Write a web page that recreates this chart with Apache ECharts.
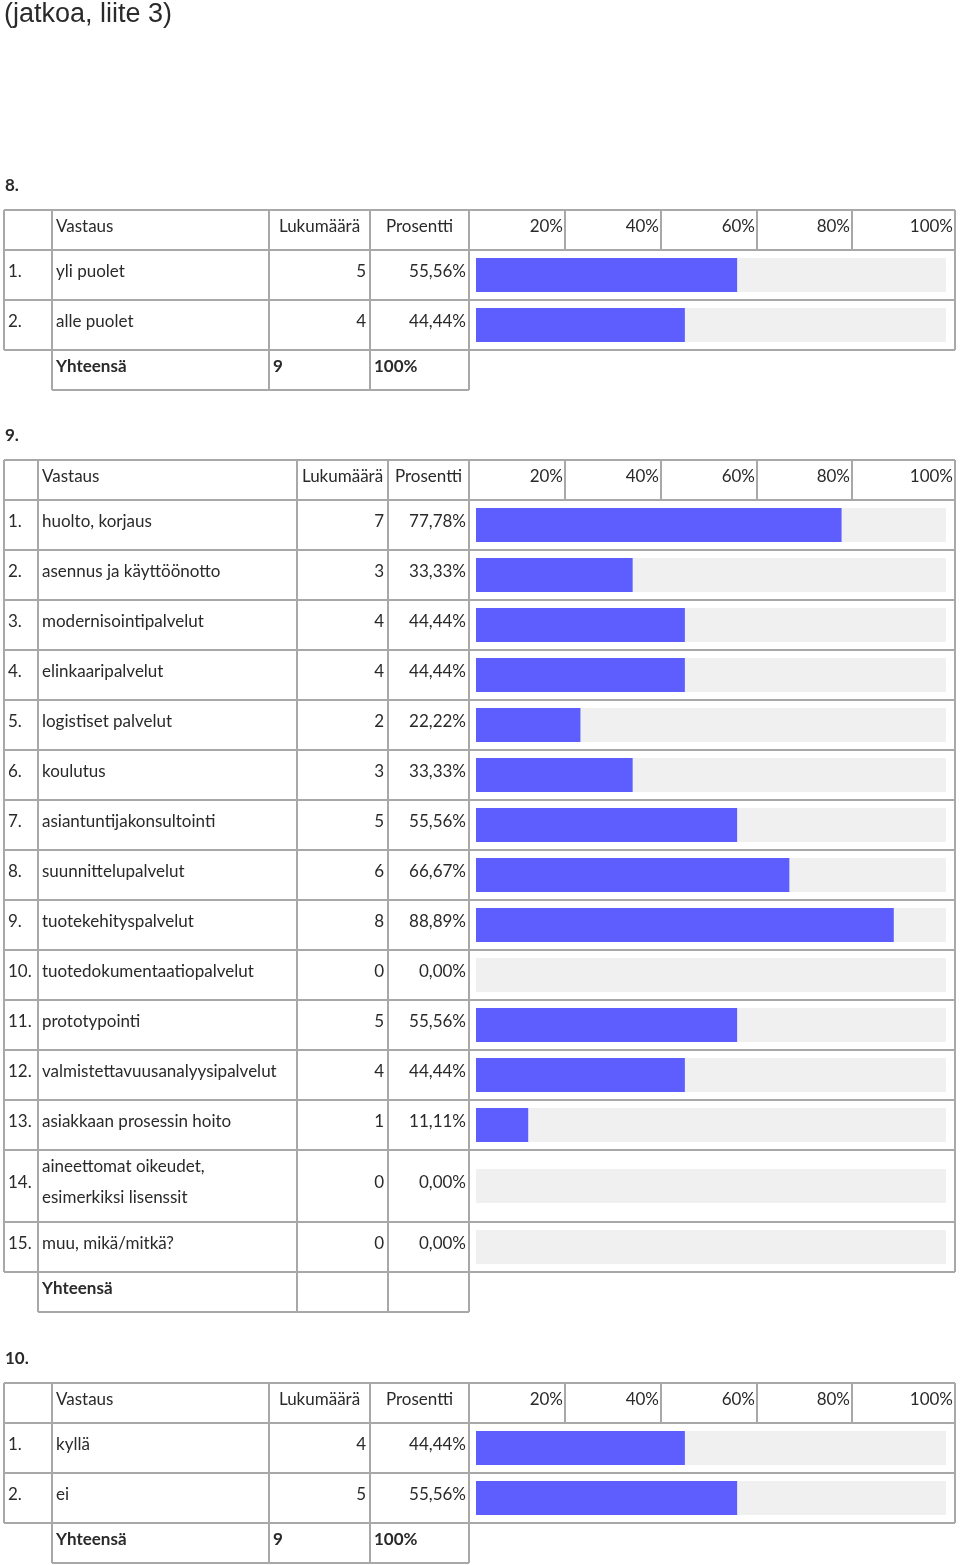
<!DOCTYPE html>
<html>
<head>
<meta charset="utf-8">
<script src="https://cdn.jsdelivr.net/npm/echarts@6/dist/echarts.min.js"></script>
<style>
html,body{margin:0;padding:0;background:#fff;}
#chart{width:960px;height:1565px;}
</style>
</head>
<body>
<div id="chart"></div>
<script>
// ---------- DATA ----------
const pageTitle = '(jatkoa, liite 3)';
const headerLabels = ['Vastaus', 'Lukumäärä', 'Prosentti'];
const tickLabels = ['20%', '40%', '60%', '80%', '100%'];
const totalLabel = 'Yhteensä';

const q8Title = '8.';
const q8Labels = ['yli puolet', 'alle puolet'];
const q8Counts = [5, 4];
const q8Pct = [55.56, 44.44];
const q8Total = ['9', '100%'];

const q9Title = '9.';
const q9Labels = ['huolto, korjaus', 'asennus ja käyttöönotto', 'modernisointipalvelut',
  'elinkaaripalvelut', 'logistiset palvelut', 'koulutus', 'asiantuntijakonsultointi',
  'suunnittelupalvelut', 'tuotekehityspalvelut', 'tuotedokumentaatiopalvelut',
  'prototypointi', 'valmistettavuusanalyysipalvelut', 'asiakkaan prosessin hoito',
  'aineettomat oikeudet,\nesimerkiksi lisenssit', 'muu, mikä/mitkä?'];
const q9Counts = [7, 3, 4, 4, 2, 3, 5, 6, 8, 0, 5, 4, 1, 0, 0];
const q9Pct = [77.78, 33.33, 44.44, 44.44, 22.22, 33.33, 55.56, 66.67, 88.89, 0, 55.56, 44.44, 11.11, 0, 0];
const q9Total = ['', ''];

const q10Title = '10.';
const q10Labels = ['kyllä', 'ei'];
const q10Counts = [4, 5];
const q10Pct = [44.44, 55.56];
const q10Total = ['9', '100%'];

// ---------- LAYOUT ----------
const FONT = '"Lato", "Noto Sans", sans-serif';
const FS = 17;
const TXT = '#2a2a2a';
const LINE = '#a8a8a8';
const BLUE = '#5e5eff';
const GRAY = '#f0f0f0';
const BAR_L = 476, BAR_W = 470;
const pctCols = [469, 565, 661, 757, 852, 955];

const fmtPct = v => v.toFixed(2).replace('.', ',') + '%';

const graphics = [];
function txt(t, x, y, opt) {
  opt = opt || {};
  graphics.push({
    type: 'text', silent: true, z: 10,
    style: {
      text: t, x: x, y: y,
      font: (opt.bold ? 'bold ' : '') + (opt.size || FS) + 'px ' + (opt.family || FONT),
      fill: TXT, align: opt.align || 'left', verticalAlign: 'middle',
      lineHeight: opt.lh || 20
    }
  });
}
function line(x1, y1, x2, y2) {
  graphics.push({
    type: 'line', silent: true, z: 5,
    shape: { x1: x1, y1: y1, x2: x2, y2: y2 },
    style: { stroke: LINE, lineWidth: 2 }
  });
}

txt(pageTitle, 4, 15, { size: 27, family: '"Liberation Sans", Arial, sans-serif' });

function buildTable(cfg) {
  const c = cfg.cols;
  const top = cfg.top;
  const hb = top + 40;
  const rowTops = [];
  let y = hb;
  cfg.labels.forEach((l, i) => { rowTops.push(y); y += (cfg.rowH ? cfg.rowH[i] : 50); });
  const bottom = y;
  const totBottom = bottom + 40;
  const OFF = -3.5;
  txt(cfg.title, 5, top - 24, { bold: true });
  line(c[0], top, c[5], top);
  line(c[0], hb, c[5], hb);
  rowTops.forEach((rt, i) => { if (i > 0) line(c[0], rt, c[5], rt); });
  line(c[0], bottom, c[5], bottom);
  [c[0], c[1], c[2], c[3], c[4], c[5]].forEach(x => line(x, top, x, bottom));
  pctCols.slice(1, 5).forEach(x => line(x, top, x, hb));
  line(c[1], totBottom, c[4], totBottom);
  [c[1], c[2], c[3], c[4]].forEach(x => line(x, bottom, x, totBottom));
  txt(headerLabels[0], c[1] + 4, top + 20 + OFF);
  txt(headerLabels[1], (c[2] + c[3]) / 2, top + 20 + OFF, { align: 'center' });
  txt(headerLabels[2], (c[3] + c[4]) / 2, top + 20 + OFF, { align: 'center' });
  tickLabels.forEach((t, i) => txt(t, pctCols[i + 1] - 2, top + 20 + OFF, { align: 'right' }));
  cfg.labels.forEach((l, i) => {
    const h = cfg.rowH ? cfg.rowH[i] : 50;
    const cy = rowTops[i] + h / 2 + OFF;
    txt((i + 1) + '.', 8, cy);
    txt(l, c[1] + 4, cy, { lh: 31 });
    txt(String(cfg.counts[i]), c[3] - 4, cy, { align: 'right' });
    txt(fmtPct(cfg.pct[i]), c[4] - 3, cy, { align: 'right' });
  });
  txt(totalLabel, c[1] + 4, bottom + 20 + OFF, { bold: true });
  if (cfg.total[0]) txt(cfg.total[0], c[2] + 4, bottom + 20 + OFF, { bold: true });
  if (cfg.total[1]) txt(cfg.total[1], c[3] + 4, bottom + 20 + OFF, { bold: true });
  return { rowTops: rowTops, bottom: bottom };
}

const colsA = [4, 52, 269, 370, 469, 955];
const colsB = [4, 38, 297, 388, 469, 955];
const q9RowH = q9Labels.map((l, i) => (i === 13 ? 72 : 50));

const tA = buildTable({ title: q8Title, top: 210, cols: colsA, labels: q8Labels, counts: q8Counts, pct: q8Pct, total: q8Total });
const tB = buildTable({ title: q9Title, top: 460, cols: colsB, labels: q9Labels, counts: q9Counts, pct: q9Pct, total: q9Total, rowH: q9RowH });
const tC = buildTable({ title: q10Title, top: 1383, cols: colsA, labels: q10Labels, counts: q10Counts, pct: q10Pct, total: q10Total });

// ---------- GRIDS / BARS ----------
const groups = [
  { top: tA.rowTops[0], h: 100, cats: q8Labels, vals: q8Pct },
  { top: tB.rowTops[0], h: 650, cats: q9Labels.slice(0, 13), vals: q9Pct.slice(0, 13) },
  { top: tB.rowTops[13], h: 72, cats: q9Labels.slice(13, 14), vals: q9Pct.slice(13, 14) },
  { top: tB.rowTops[14], h: 50, cats: q9Labels.slice(14, 15), vals: q9Pct.slice(14, 15) },
  { top: tC.rowTops[0], h: 100, cats: q10Labels, vals: q10Pct }
];

const grid = [], xAxis = [], yAxis = [], series = [];
groups.forEach((g, i) => {
  grid.push({ left: BAR_L, top: g.top, width: BAR_W, height: g.h, containLabel: false });
  xAxis.push({ type: 'value', gridIndex: i, min: 0, max: 100, show: false, splitLine: { show: false } });
  yAxis.push({ type: 'category', gridIndex: i, data: g.cats, inverse: true, show: false });
  series.push({
    type: 'bar', xAxisIndex: i, yAxisIndex: i, data: g.vals, barWidth: 34,
    showBackground: true, backgroundStyle: { color: GRAY },
    itemStyle: { color: BLUE },
    silent: true, animation: false
  });
});

const chart = echarts.init(document.getElementById('chart'), null, { renderer: 'canvas' });
chart.setOption({
  animation: false,
  backgroundColor: '#fff',
  grid: grid, xAxis: xAxis, yAxis: yAxis, series: series,
  graphic: graphics
});
</script>
</body>
</html>
